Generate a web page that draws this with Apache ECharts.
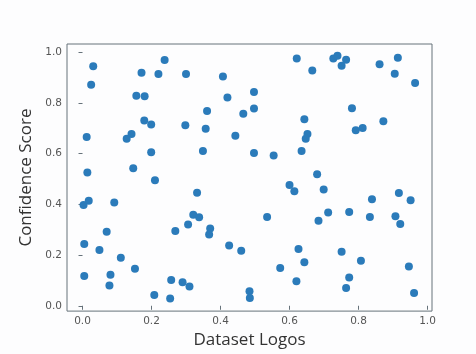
<!DOCTYPE html>
<html>
<head>
<meta charset="utf-8">
<script src="https://cdn.jsdelivr.net/npm/echarts@6/dist/echarts.min.js"></script>
<style>
html,body{margin:0;padding:0;background:#fdfdfe;}
#chart{width:476px;height:354px;}
</style>
</head>
<body>
<div id="chart"></div>
<script>
const xLabel = "Dataset Logos";
const yLabel = "Confidence Score";
const tickValues = [0, 0.2, 0.4, 0.6, 0.8, 1.0];
const xs = [0.031,0.025,0.171,0.220,0.156,0.180,0.179,0.199,0.012,0.142,0.128,0.199,0.014,0.147,0.210,
  0.238,0.300,0.407,0.420,0.361,0.466,0.298,0.357,0.443,0.349,
  0.621,0.666,0.727,0.739,0.764,0.751,0.497,0.497,0.643,0.652,0.647,0.497,0.554,0.635,0.680,
  0.861,0.914,0.905,0.964,0.781,0.872,0.792,0.812,
  0.003,0.018,0.092,0.070,0.005,0.049,0.111,0.152,0.005,0.081,0.078,0.208,
  0.332,0.321,0.338,0.306,0.269,0.370,0.367,0.425,0.460,0.257,0.290,0.310,0.254,0.484,0.485,
  0.600,0.614,0.699,0.535,0.712,0.684,0.626,0.643,0.573,0.620,0.751,
  0.839,0.917,0.951,0.773,0.833,0.907,0.921,0.807,0.946,0.773,0.764,0.961];
const ys = [0.945,0.872,0.920,0.915,0.829,0.827,0.731,0.715,0.666,0.678,0.659,0.606,0.526,0.543,0.495,
  0.970,0.915,0.905,0.822,0.769,0.758,0.712,0.699,0.671,0.611,
  0.976,0.928,0.976,0.987,0.971,0.947,0.844,0.778,0.736,0.678,0.659,0.603,0.593,0.611,0.519,
  0.953,0.979,0.916,0.879,0.779,0.728,0.693,0.702,
  0.398,0.414,0.408,0.292,0.244,0.220,0.190,0.146,0.118,0.122,0.080,0.043,
  0.446,0.359,0.349,0.321,0.295,0.305,0.281,0.238,0.217,0.102,0.093,0.076,0.029,0.057,0.031,
  0.477,0.452,0.459,0.350,0.368,0.336,0.224,0.172,0.149,0.097,0.213,
  0.420,0.445,0.416,0.370,0.350,0.353,0.323,0.178,0.155,0.112,0.070,0.050];

const points = xs.map((x, i) => [x, ys[i]]);
const chart = echarts.init(document.getElementById('chart'), null, {renderer: 'canvas'});
const tickLabelStyle = {color: '#555', fontSize: 10.5, fontFamily: 'DejaVu Sans', formatter: v => Number(v).toFixed(1)};
chart.setOption({
  backgroundColor: '#fdfdfe',
  animation: false,
  grid: {left: 67, right: 44, top: 44, bottom: 38, show: true, borderColor: '#66727a', borderWidth: 1, backgroundColor: 'transparent'},
  xAxis: {
    type: 'value', min: -0.045, max: 1.013,
    name: xLabel, nameLocation: 'middle', nameGap: 15,
    nameTextStyle: {fontFamily: 'Open Sans', fontSize: 17, color: '#333'},
    axisLine: {show: false},
    axisTick: {show: true, length: 4, inside: false, customValues: tickValues, lineStyle: {color: '#66727a'}},
    axisLabel: Object.assign({customValues: tickValues, margin: 5}, tickLabelStyle),
    splitLine: {show: false}
  },
  yAxis: {
    type: 'value', min: -0.021, max: 1.033,
    name: yLabel, nameLocation: 'middle', nameGap: 22, nameRotate: 90,
    nameTextStyle: {fontFamily: 'Open Sans', fontSize: 17, color: '#333'},
    axisLine: {show: false},
    axisTick: {show: true, length: 4, inside: false, customValues: tickValues, lineStyle: {color: '#66727a'}},
    axisLabel: Object.assign({customValues: tickValues, margin: 5}, tickLabelStyle),
    splitLine: {show: false}
  },
  series: [{
    type: 'scatter',
    data: points,
    symbolSize: 8,
    itemStyle: {color: '#2b7bba', opacity: 1}
  }]
});
</script>
</body>
</html>
